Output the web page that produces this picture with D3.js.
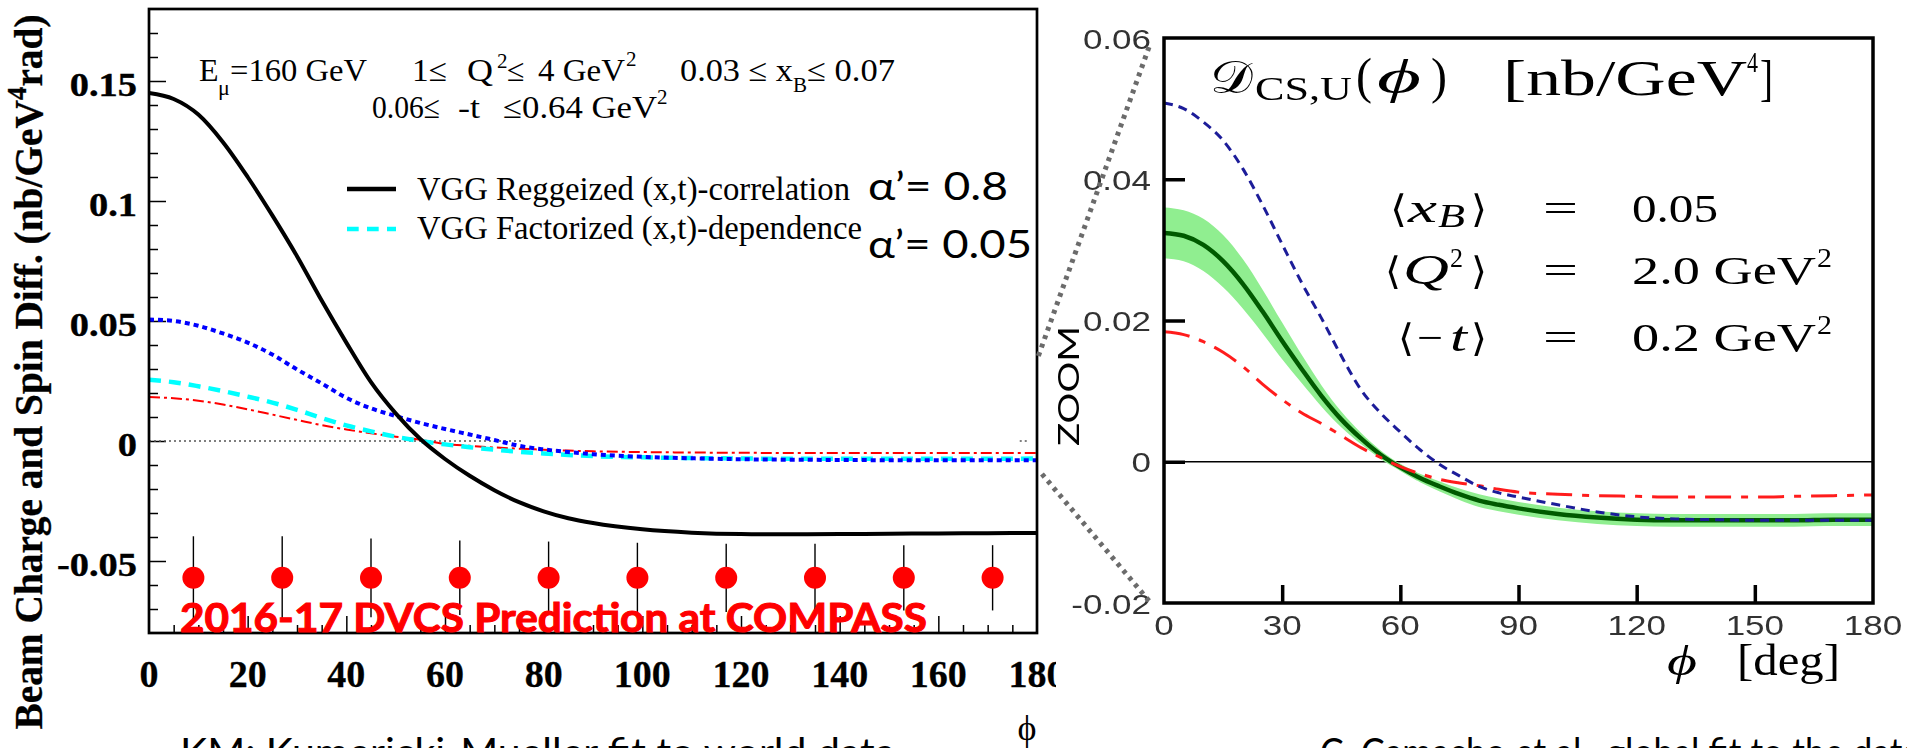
<!DOCTYPE html>
<html>
<head>
<meta charset="utf-8">
<script src="https://cdn.jsdelivr.net/npm/d3@7"></script>
<style>
  html, body { margin: 0; padding: 0; background: #fff; }
  svg { display: block; }
</style>
</head>
<body>
<svg id="chart" width="1907" height="748"></svg>
<script>
// ---------------- data ----------------
// azimuthal angle grid (deg) shared by all curves
const phiGrid = [0,5,10,15,20,25,30,35,40,45,50,55,60,65,70,75,80,85,90,100,110,120,130,140,150,160,170,180];

// left panel: beam charge & spin difference (nb/GeV^4 rad)
const vggReggeized = [0.145,0.1425,0.136,0.1245,0.110,0.094,0.077,0.0585,0.041,0.0245,0.0115,0.0008,-0.0075,-0.0145,-0.0205,-0.0255,-0.0293,-0.0322,-0.0342,-0.0368,-0.0382,-0.0388,-0.0389,-0.0388,-0.0386,-0.0385,-0.0384,-0.0383];
const vggFactorized = [0.0255,0.0245,0.0228,0.0208,0.0185,0.0160,0.0130,0.0096,0.0065,0.0040,0.0018,0.0000,-0.0014,-0.0026,-0.0036,-0.0045,-0.0052,-0.0058,-0.0063,-0.0068,-0.0071,-0.0073,-0.0074,-0.0074,-0.0074,-0.0074,-0.0074,-0.0073];
const blueDotted = [0.0506,0.0500,0.0480,0.0448,0.0410,0.0360,0.0298,0.0240,0.0180,0.0136,0.0104,0.0075,0.0050,0.0027,0.0004,-0.0020,-0.0035,-0.0046,-0.0055,-0.0066,-0.0072,-0.0076,-0.0078,-0.0079,-0.0080,-0.0080,-0.0080,-0.0080];
const redDashDot = [0.0183,0.0178,0.0168,0.0152,0.0132,0.0110,0.0088,0.0066,0.0048,0.0032,0.0018,0.0005,-0.0012,-0.0020,-0.0027,-0.0032,-0.0036,-0.0040,-0.0043,-0.0046,-0.0048,-0.0049,-0.0050,-0.0050,-0.0050,-0.0050,-0.0050,-0.0050];

// projected measurement bins
const binPhi   = [9,27,45,63,81,99,117,135,153,171];
const binValue = [-0.057,-0.057,-0.057,-0.057,-0.057,-0.057,-0.057,-0.057,-0.057,-0.057];
const binError = [0.0173,0.0173,0.0164,0.0155,0.0151,0.0146,0.0142,0.0142,0.0136,0.0136];

const leftYMajor = [-0.05,0,0.05,0.1,0.15];
const leftYLabels = ["-0.05","0","0.05","0.1","0.15"];
const leftXMajor = [0,20,40,60,80,100,120,140,160,180];
const leftXLabels = ["0","20","40","60","80","100","120","140","160","180"];

// right panel: D_CS,U(phi) (nb/GeV^4)
const dcsCentral = [0.0324,0.0320,0.0307,0.0284,0.0252,0.0213,0.0171,0.0131,0.0093,0.0060,0.0033,0.0010,-0.0008,-0.0023,-0.0035,-0.0046,-0.0055,-0.0061,-0.0066,-0.0074,-0.0079,-0.0082,-0.0083,-0.0083,-0.0083,-0.0083,-0.0082,-0.0082];
const dcsError   = [0.0036,0.0036,0.0037,0.0037,0.0035,0.0031,0.0026,0.0020,0.0015,0.0011,0.0008,0.0006,0.0005,0.0006,0.0007,0.0008,0.0009,0.0009,0.0009,0.0009,0.0009,0.0009,0.0009,0.0009,0.0009,0.0009,0.0009,0.0009];
const dcsBlue    = [0.0508,0.0500,0.0481,0.0455,0.0415,0.0364,0.0308,0.0253,0.0203,0.0150,0.0102,0.0069,0.0042,0.0017,-0.0004,-0.0020,-0.0035,-0.0044,-0.0050,-0.0061,-0.0071,-0.0078,-0.0081,-0.0082,-0.0083,-0.0083,-0.0083,-0.0083];
const dcsRed     = [0.0184,0.0180,0.0170,0.0155,0.0135,0.0110,0.0088,0.0069,0.0054,0.0037,0.0020,0.0006,-0.0007,-0.0017,-0.0025,-0.0030,-0.0034,-0.0039,-0.0043,-0.0046,-0.0048,-0.0049,-0.0050,-0.0050,-0.0050,-0.0049,-0.0048,-0.0047];

const rightYTicks = [-0.02,0,0.02,0.04,0.06];
const rightYLabels = ["-0.02","0","0.02","0.04","0.06"];
const rightXTicks = [0,30,60,90,120,150,180];
const rightXLabels = ["0","30","60","90","120","150","180"];

// ---------------- setup ----------------
const svg = d3.select("#chart");
const SERIF = "'Liberation Serif','Times New Roman',serif";
const SANS  = "'Liberation Sans',Arial,sans-serif";
const HUMAN = "Lato,'Open Sans',sans-serif";

const xL = d3.scaleLinear().domain([0,180]).range([149,1037]);
const yL = d3.scaleLinear().domain([-0.08,0.18]).range([633,9]);
const xR = d3.scaleLinear().domain([0,180]).range([1164,1873]);
const yR = d3.scaleLinear().domain([-0.02,0.06]).range([603,38]);

const defs = svg.append("defs");
defs.append("clipPath").attr("id","clipL").append("rect")
  .attr("x",xL(0)).attr("y",yL(0.18)).attr("width",xL(180)-xL(0)).attr("height",yL(-0.08)-yL(0.18));
defs.append("clipPath").attr("id","clipR").append("rect")
  .attr("x",xR(0)).attr("y",yR(0.06)).attr("width",xR(180)-xR(0)).attr("height",yR(-0.02)-yR(0.06));
defs.append("filter").attr("id","soft").attr("x","-5%").attr("y","-5%").attr("width","110%").attr("height","110%")
  .append("feGaussianBlur").attr("stdDeviation",0.7);

function label(g, s, x, y, o = {}) {
  const t = g.append("text")
    .attr("font-family", o.family || SERIF)
    .attr("font-size", o.size || 32)
    .attr("font-weight", o.weight || "normal")
    .attr("font-style", o.style || "normal")
    .attr("fill", o.fill || "#000")
    .attr("text-anchor", o.anchor || "start");
  if (o.sx || o.rot) {
    t.attr("transform", `translate(${x},${y})` + (o.rot ? ` rotate(${o.rot})` : "") + (o.sx ? ` scale(${o.sx},1)` : ""));
  } else {
    t.attr("x", x).attr("y", y);
  }
  if (o.len) t.attr("textLength", o.len).attr("lengthAdjust", "spacingAndGlyphs");
  if (o.stroke) t.attr("stroke", o.fill || "#000").attr("stroke-width", o.stroke);
  t.text(s);
  return t;
}

// ---------------- left panel ----------------
const L = svg.append("g");

// y-axis ticks (minor every 0.01, major every 0.05)
const yMinor = d3.range(-7, 18).map(k => k / 100).filter(v => !leftYMajor.some(m => Math.abs(m - v) < 1e-9));
L.append("g").attr("transform", `translate(${xL(0)},0)`)
  .call(d3.axisRight(yL).tickValues(yMinor).tickSize(9).tickFormat(""))
  .call(g => { g.select(".domain").remove(); g.selectAll("line").attr("stroke","#000").attr("stroke-width",1.5); });
L.append("g").attr("transform", `translate(${xL(0)},0)`)
  .call(d3.axisRight(yL).tickValues(leftYMajor).tickSize(17).tickFormat(""))
  .call(g => { g.select(".domain").remove(); g.selectAll("line").attr("stroke","#000").attr("stroke-width",1.5); });

// x-axis ticks (minor every 5 deg, major every 20 deg)
const xMinor = d3.range(5, 180, 5).filter(v => v % 20 !== 0);
L.append("g").attr("transform", `translate(0,${yL(-0.08)})`)
  .call(d3.axisTop(xL).tickValues(xMinor).tickSize(8).tickFormat(""))
  .call(g => { g.select(".domain").remove(); g.selectAll("line").attr("stroke","#000").attr("stroke-width",1.5); });
L.append("g").attr("transform", `translate(0,${yL(-0.08)})`)
  .call(d3.axisTop(xL).tickValues(leftXMajor.slice(1, -1)).tickSize(17).tickFormat(""))
  .call(g => { g.select(".domain").remove(); g.selectAll("line").attr("stroke","#000").attr("stroke-width",1.5); });

// tick labels
leftYMajor.forEach((v, i) => label(L, leftYLabels[i], 137, yL(v) + 15,
  { size: 34, weight: "bold", anchor: "end", sx: 1.13, stroke: 0.4 }));
leftXMajor.forEach((v, i) => label(L, leftXLabels[i], xL(v), 687,
  { size: 38, weight: "bold", anchor: "middle", stroke: 0.3 }));

// axis titles
const yt = label(L, "", 42, 372, { size: 39, weight: "bold", anchor: "middle", rot: -90, len: 715, stroke: 0.3 });
yt.append("tspan").text("Beam Charge and Spin Diff. (nb/GeV");
yt.append("tspan").attr("font-size", 27).attr("dy", -16).text("4");
yt.append("tspan").attr("dy", 16).text("rad)");
label(L, "ϕ", 1027, 740, { size: 36, anchor: "middle" });

// zero reference
const zeroDots = L.append("g").attr("stroke", "#555").attr("stroke-width", 1.5).attr("stroke-dasharray", "2,3");
zeroDots.append("line").attr("x1", xL(0)).attr("x2", xL(76)).attr("y1", yL(0)).attr("y2", yL(0));
zeroDots.append("line").attr("x1", xL(176.5)).attr("x2", xL(178.5)).attr("y1", yL(0)).attr("y2", yL(0));

// model curves
const lineL = d3.line().x((d, i) => xL(phiGrid[i])).y(d => yL(d)).curve(d3.curveMonotoneX);
const curvesL = L.append("g").attr("clip-path", "url(#clipL)").attr("fill", "none");
curvesL.append("path").attr("d", lineL(redDashDot)).attr("stroke", "#ff0000").attr("stroke-width", 2).attr("stroke-dasharray", "11,4,3,4");
curvesL.append("path").attr("d", lineL(vggFactorized)).attr("stroke", "#00ffff").attr("stroke-width", 4.5).attr("stroke-dasharray", "12,8");
curvesL.append("path").attr("d", lineL(blueDotted)).attr("stroke", "#0000ff").attr("stroke-width", 4).attr("stroke-dasharray", "5,4");
curvesL.append("path").attr("d", lineL(vggReggeized)).attr("stroke", "#000").attr("stroke-width", 4);

// projected points
const pts = L.append("g");
binPhi.forEach((p, i) => {
  pts.append("line").attr("x1", xL(p)).attr("x2", xL(p))
    .attr("y1", yL(binValue[i] - binError[i])).attr("y2", yL(binValue[i] + binError[i]))
    .attr("stroke", "#000").attr("stroke-width", 1.4);
  pts.append("circle").attr("cx", xL(p)).attr("cy", yL(binValue[i])).attr("r", 11).attr("fill", "#ff0000");
});

// frame
L.append("rect").attr("x", xL(0)).attr("y", yL(0.18)).attr("width", xL(180) - xL(0)).attr("height", yL(-0.08) - yL(0.18))
  .attr("fill", "none").attr("stroke", "#000").attr("stroke-width", 2.7);

// kinematics
label(L, "E", 199, 81, { size: 32 });
label(L, "μ", 218, 95, { size: 22 });
label(L, "=160 GeV", 230, 81, { size: 32, len: 137 });
label(L, "1≤", 412, 81, { size: 32, len: 35 });
label(L, "Q", 467, 81, { size: 32, len: 26 });
label(L, "2", 497, 68, { size: 21 });
label(L, "≤", 507, 81, { size: 32 });
label(L, "4 GeV", 538, 81, { size: 32, len: 87 });
label(L, "2", 626, 66, { size: 21 });
label(L, "0.03 ≤ x", 680, 81, { size: 32, len: 113 });
label(L, "B", 793, 92, { size: 21 });
label(L, "≤ 0.07", 807, 81, { size: 32, len: 88 });
label(L, "0.06≤", 372, 118, { size: 32, len: 68 });
label(L, "-t", 458, 118, { size: 32, len: 22 });
label(L, "≤0.64 GeV", 503, 118, { size: 32, len: 154 });
label(L, "2", 657, 104, { size: 21 });

// legend
L.append("line").attr("x1", 347).attr("x2", 396).attr("y1", 189).attr("y2", 189).attr("stroke", "#000").attr("stroke-width", 4.5);
L.append("line").attr("x1", 347).attr("x2", 396).attr("y1", 229).attr("y2", 229).attr("stroke", "#00ffff").attr("stroke-width", 4.5).attr("stroke-dasharray", "11.7,8.3");
label(L, "VGG Reggeized (x,t)-correlation", 417, 200, { size: 33, len: 433 });
label(L, "VGG Factorized (x,t)-dependence", 417, 239, { size: 33, len: 445 });
label(L, "α’= 0.8", 868, 200, { family: HUMAN, size: 38, len: 140 });
label(L, "α’= 0.05", 868, 258, { family: HUMAN, size: 38, len: 164 });

label(L, "2016-17 DVCS Prediction at COMPASS", 180, 632, { family: HUMAN, size: 41, weight: "bold", fill: "#ff0000", len: 747, stroke: 1.1 });

// captions under the panels (cut by the page edge)
label(svg, "KM: Kumericki-Mueller fit to world data", 180, 766, { family: HUMAN, size: 39, len: 715 });
label(svg, "C. Camacho et al., global fit to the data", 1320, 766, { family: HUMAN, size: 39, len: 600 });

// ---------------- right panel ----------------
svg.append("rect").attr("x", 1056).attr("y", 0).attr("width", 1907 - 1056).attr("height", 700).attr("fill", "#fff");
const R = svg.append("g").attr("filter", "url(#soft)");

const bandR = d3.area().x((d, i) => xR(phiGrid[i]))
  .y0((d, i) => yR(d - dcsError[i])).y1((d, i) => yR(d + dcsError[i])).curve(d3.curveMonotoneX);
const lineR = d3.line().x((d, i) => xR(phiGrid[i])).y(d => yR(d)).curve(d3.curveMonotoneX);

const curvesR = R.append("g").attr("clip-path", "url(#clipR)").attr("fill", "none");
curvesR.append("line").attr("x1", xR(0)).attr("x2", xR(180)).attr("y1", yR(0)).attr("y2", yR(0)).attr("stroke", "#000").attr("stroke-width", 1.3);
curvesR.append("path").attr("d", bandR(dcsCentral)).attr("fill", "#90ee90");
curvesR.append("path").attr("d", lineR(dcsCentral)).attr("stroke", "#005a00").attr("stroke-width", 4.5);
curvesR.append("path").attr("d", lineR(dcsRed)).attr("stroke", "#ff1f1f").attr("stroke-width", 3).attr("stroke-dasharray", "26,10,7,10");
curvesR.append("path").attr("d", lineR(dcsBlue)).attr("stroke", "#1f1f99").attr("stroke-width", 3).attr("stroke-dasharray", "9,6");

// ticks
R.append("g").attr("transform", `translate(${xR(0)},0)`)
  .call(d3.axisRight(yR).tickValues(rightYTicks.slice(1, -1)).tickSize(21).tickFormat(""))
  .call(g => { g.select(".domain").remove(); g.selectAll("line").attr("stroke", "#000").attr("stroke-width", 3.5); });
R.append("g").attr("transform", `translate(0,${yR(-0.02)})`)
  .call(d3.axisTop(xR).tickValues(rightXTicks.slice(1, -1)).tickSize(18).tickFormat(""))
  .call(g => { g.select(".domain").remove(); g.selectAll("line").attr("stroke", "#000").attr("stroke-width", 3.5); });

R.append("rect").attr("x", xR(0)).attr("y", yR(0.06)).attr("width", xR(180) - xR(0)).attr("height", yR(-0.02) - yR(0.06))
  .attr("fill", "none").attr("stroke", "#000").attr("stroke-width", 3.5);

rightYTicks.forEach((v, i) => label(R, rightYLabels[i], 1151, yR(v) + 10.5,
  { family: SANS, size: 28, fill: "#333", anchor: "end", sx: 1.25 }));
rightXTicks.forEach((v, i) => label(R, rightXLabels[i], xR(v), 635,
  { family: SANS, size: 28, fill: "#333", anchor: "middle", sx: 1.25 }));

// title
label(R, "𝒟", 1210, 93, { family: "'DejaVu Serif',serif", size: 46, len: 43 });
label(R, "CS,U", 1255, 100, { size: 33, len: 97 });
label(R, "(", 1356, 93, { size: 50, len: 16 });
label(R, "ϕ", 1377, 93, { size: 48, style: "italic", len: 44 });
label(R, ")", 1431, 93, { size: 50, len: 16 });
label(R, "[nb/GeV", 1503, 95, { size: 50, len: 244 });
label(R, "4", 1747, 72, { size: 30, len: 11 });
label(R, "]", 1760, 95, { size: 50, len: 13 });

// kinematic averages
label(R, "⟨", 1390, 222, { family: "'DejaVu Serif',serif", size: 38, len: 17 });
label(R, "x", 1408, 222, { size: 42, style: "italic", len: 29 });
label(R, "B", 1438, 227, { size: 34, style: "italic", len: 27 });
label(R, "⟩", 1471, 222, { family: "'DejaVu Serif',serif", size: 38, len: 16 });
label(R, "=", 1543, 222, { size: 40, len: 35 });
label(R, "0.05", 1632, 222, { size: 40, len: 86 });

label(R, "⟨", 1385, 284, { family: "'DejaVu Serif',serif", size: 38, len: 16 });
label(R, "Q", 1403, 284, { size: 42, style: "italic", len: 46 });
label(R, "2", 1450, 267, { size: 28, len: 13 });
label(R, "⟩", 1471, 284, { family: "'DejaVu Serif',serif", size: 38, len: 16 });
label(R, "=", 1543, 284, { size: 40, len: 35 });
label(R, "2.0 GeV", 1632, 284, { size: 40, len: 184 });
label(R, "2", 1817, 267, { size: 28, len: 15 });

label(R, "⟨", 1398, 351, { family: "'DejaVu Serif',serif", size: 38, len: 16 });
label(R, "−", 1417, 351, { size: 40, len: 26 });
label(R, "t", 1450, 351, { size: 42, style: "italic", len: 17 });
label(R, "⟩", 1471, 351, { family: "'DejaVu Serif',serif", size: 38, len: 16 });
label(R, "=", 1543, 351, { size: 40, len: 35 });
label(R, "0.2 GeV", 1632, 351, { size: 40, len: 184 });
label(R, "2", 1817, 334, { size: 28, len: 15 });

// x title
label(R, "ϕ", 1667, 675, { size: 42, style: "italic", len: 30 });
label(R, "[deg]", 1737, 675, { size: 44, len: 103 });

// ---------------- zoom guides ----------------
const guides = svg.append("g").attr("stroke", "#6b6b6b").attr("stroke-width", 5).attr("stroke-dasharray", "4,5").attr("fill", "none");
guides.append("line").attr("x1", xR(0) - 15).attr("y1", yR(0.0587)).attr("x2", xL(180)).attr("y2", yL(0.0338));
guides.append("line").attr("x1", xR(0) - 15).attr("y1", yR(-0.0197)).attr("x2", xL(180) + 2).attr("y2", yL(-0.0123));
label(svg, "ZOOM", 1079, 386, { family: HUMAN, size: 29, anchor: "middle", rot: -90, len: 120 });
</script>
</body>
</html>
